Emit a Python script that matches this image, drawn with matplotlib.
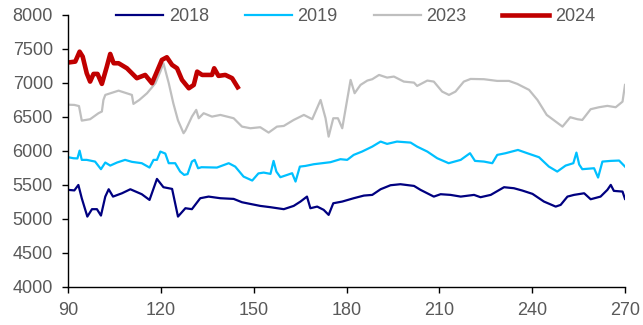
import matplotlib
matplotlib.use('Agg')
import matplotlib.pyplot as plt

plt.rcParams['font.family'] = ['Liberation Sans', 'DejaVu Sans']

# 2018
x18 = [90, 92, 93.3, 94.4, 96.2, 97.7, 99.3, 100.6, 102, 103.1, 104.5, 107.4, 110.1, 113.8, 116.3,
       118.7, 120.8, 123.6, 125.5, 127.9, 130, 132.7, 135.4, 139.2, 143.5, 146.2, 148.9, 152.1,
       155.4, 159.7, 162.9, 165.1, 167.2, 168.3, 170.5, 172.6, 174.2, 175.7, 178.6, 182.3, 185.6,
       188.3, 191, 194.2, 197.4, 201.8, 203.9, 208.2, 210.4, 213.6, 216.9, 221.2, 223.3, 226.6,
       230.9, 234.1, 236.8, 240.1, 243.8, 247.6, 249.2, 251.4, 253.5, 256.8, 258.9, 262.1, 264.3,
       265.4, 266.4, 269.2, 270]
y18 = [5428, 5420, 5500, 5304, 5035, 5144, 5144, 5050, 5329, 5437, 5329, 5378, 5437, 5364, 5280,
       5589, 5467, 5442, 5035, 5158, 5144, 5305, 5329, 5305, 5295, 5246, 5221, 5192,
       5173, 5144, 5192, 5256, 5329, 5158, 5182, 5134, 5060, 5231, 5256, 5305, 5344,
       5354, 5437, 5496, 5511, 5486, 5428, 5329, 5364, 5354, 5329, 5354, 5320, 5354,
       5467, 5452, 5418, 5369, 5256, 5182, 5207, 5329, 5354, 5378, 5290, 5329, 5428,
       5501, 5413, 5403, 5295]

# 2019
x19 = [90, 91.7, 93, 93.7, 94.4, 96, 98.7, 100.6, 102, 103.6, 105.8, 108.4, 110.6, 113.8, 116.3,
       117.6, 118.7, 119.8, 121.4, 122.5, 124.6, 126.2, 127.5, 128.6, 130, 130.9, 132, 133.1,
       138.1, 141.9, 144, 146.7, 149.5, 151.5, 153.2, 155.4, 156.4, 157.3, 158.6, 160.8, 162.4,
       163.5, 164.9, 166.7, 169.4, 174.8, 178, 180.2, 182.3, 185, 188.3, 191, 193.1, 196.3,
       200.7, 202.8, 206.1, 209.3, 213, 216.9, 219.9, 221.5, 224.4, 227.1, 228.7, 231.4, 235.4,
       238.4, 242.2, 245.4, 248.1, 250.8, 253.3, 254.3, 255.2, 256.2, 260, 261.3, 262.7, 265.4,
       268.1, 270]
y19 = [5908, 5893, 5890, 6005, 5869, 5869, 5844, 5732, 5830, 5785, 5830, 5869, 5840, 5820, 5756,
       5869, 5869, 5991, 5962, 5820, 5820, 5697, 5648, 5660, 5844, 5869, 5746, 5761,
       5756, 5820, 5770, 5623, 5565, 5670, 5682, 5663, 5854, 5697, 5614, 5648, 5673,
       5550, 5770, 5780, 5805, 5835, 5879, 5869, 5942, 5991, 6064, 6138, 6104, 6138,
       6123, 6064, 5991, 5893, 5820, 5869, 5967, 5854, 5844, 5820, 5942, 5967, 6015,
       5967, 5908, 5770, 5697, 5785, 5820, 5976, 5800, 5732, 5746, 5609, 5844, 5854,
       5859, 5770]

# 2023
x23 = [90, 92, 93.5, 94.4, 97.1, 99.8, 100.9, 101.4, 102, 106.3, 110.6, 111.1, 113, 115.5, 118.2,
       119.8, 120.8, 122.5, 124, 125.5, 127.3, 127.9, 130, 131.4, 132.2, 133.8, 136.5, 139.2,
       143.5, 146.2, 148.9, 152.1, 154.8, 157.5, 159.7, 162.9, 166.2, 168.9, 171.6, 173.2,
       174.2, 175.7, 177.2, 178.6, 181.3, 182.6, 184.5, 186.7, 188.3, 190.5, 193.1, 195.3,
       198.5, 201.8, 202.8, 206.1, 208.2, 210.9, 213.1, 215.2, 217.9, 220.1, 224.4, 228.7,
       232.5, 235.2, 239, 241.7, 244.7, 247.6, 249.8, 252.3, 254.6, 256.2, 258.9, 261.6,
       264.3, 267, 269.2, 270]
y23 = [6680, 6677, 6660, 6446, 6467, 6555, 6580, 6750, 6824, 6887, 6824, 6692, 6750, 6849, 6996,
       7167, 7290, 7000, 6700, 6450, 6261, 6300, 6505, 6604, 6481, 6555, 6505, 6530,
       6481, 6358, 6334, 6349, 6270, 6358, 6368, 6456, 6530, 6467, 6750, 6481,
       6211, 6481, 6481, 6334, 7045, 6849, 6971, 7035, 7055, 7118, 7079, 7094,
       7020, 7005, 6956, 7035, 7020, 6873, 6824, 6873, 7020, 7059, 7055, 7030,
       7030, 6986, 6898, 6750, 6530, 6432, 6358, 6496, 6467, 6456, 6614, 6643,
       6663, 6643, 6725, 6971]

# 2024
x24 = [90.6, 92.3, 93.7, 94.7, 96, 97.1, 98.2, 99.5, 100.9, 102.5, 103.6, 104.7, 106.3, 109,
       112.2, 114.9, 117.1, 118.7, 120.3, 121.9, 123.6, 125.2, 126.8, 129, 130.6, 131.7, 133.3,
       136.5, 137.2, 138.6, 140.8, 143, 144.8]
y24 = [7304, 7314, 7460, 7387, 7143, 7020, 7133, 7133, 6986, 7240, 7427, 7290, 7290, 7216,
       7070, 7118, 6996, 7167, 7339, 7378, 7265, 7216, 7045, 6922, 6971, 7167, 7118,
       7118, 7216, 7104, 7118, 7070, 6937]

xticks = [90, 120, 150, 180, 210, 240, 270]
yticks = [4000, 4500, 5000, 5500, 6000, 6500, 7000, 7500, 8000]

fig = plt.figure(figsize=(6.43, 3.25), dpi=100)
ax = fig.add_axes([0.106, 0.117, 0.866, 0.837])

ax.plot(x18, y18, color='#000080', lw=1.6, label='2018')
ax.plot(x19, y19, color='#00C0FF', lw=1.6, label='2019')
ax.plot(x23, y23, color='#BFBFBF', lw=1.6, label='2023')
ax.plot(x24, y24, color='#C00000', lw=3.3, label='2024')

ax.set_xlim(90, 270)
ax.set_ylim(4000, 8000)
ax.set_xticks(xticks)
ax.set_yticks(yticks)
for s in ['top', 'right']:
    ax.spines[s].set_visible(False)
for s in ['left', 'bottom']:
    ax.spines[s].set_linewidth(1.0)
ax.tick_params(direction='out', length=4, width=1, labelsize=13, labelcolor='#595959')
ax.tick_params(axis='x', pad=7)
ax.tick_params(axis='y', pad=7)

fig.legend(loc='center', bbox_to_anchor=(0.553, 0.948), ncol=4, frameon=False,
           fontsize=13, labelcolor='#595959', handlelength=2.6, handletextpad=0.3,
           columnspacing=2.0, borderaxespad=0, borderpad=0)

fig.savefig('out.png', dpi=100)
